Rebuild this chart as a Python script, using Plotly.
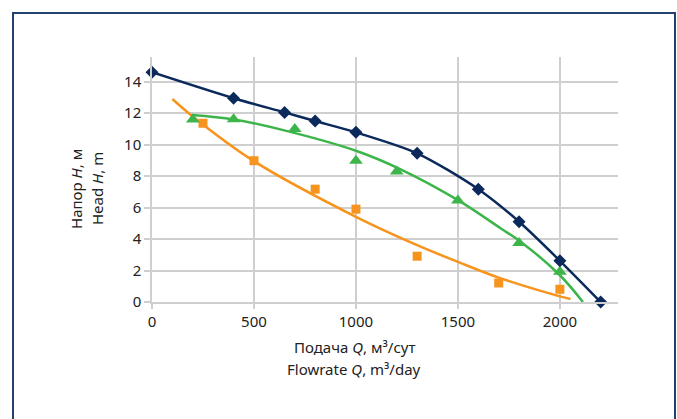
import plotly.graph_objects as go

# ---- data ----
q_blue = [0, 400, 650, 800, 1000, 1300, 1600, 1800, 2000, 2200]
h_blue = [14.6, 12.95, 12.05, 11.5, 10.78, 9.45, 7.17, 5.1, 2.62, 0.0]

q_green = [200, 400, 700, 1000, 1200, 1500, 1800, 2000]
h_green = [11.6, 11.62, 11.0, 8.98, 8.3, 6.45, 3.75, 1.93]
q_green_trend = [195, 400, 629, 1000, 1219, 1500, 1711, 1809, 2000, 2113]
h_green_trend = [11.88, 11.6, 10.97, 9.61, 8.43, 6.47, 4.67, 3.82, 1.70, 0.0]

q_orange = [250, 500, 800, 1000, 1300, 1700, 2000]
h_orange = [11.36, 8.98, 7.17, 5.9, 2.91, 1.21, 0.81]
q_orange_trend = [100, 195, 500, 1000, 1300, 1500, 1700, 2000, 2052]
h_orange_trend = [12.9, 11.84, 8.95, 5.41, 3.61, 2.55, 1.55, 0.36, 0.19]

x_ticks = [0, 500, 1000, 1500, 2000]
y_ticks = [0, 2, 4, 6, 8, 10, 12, 14]

NAVY = "#0b2a5b"
GREEN = "#3db54a"
ORANGE = "#f7941d"
GRID = "#cfcfcf"
FONT = "Noto Sans"

fig = go.Figure()

fig.add_trace(go.Scatter(x=q_orange_trend, y=h_orange_trend, mode="lines",
                         line=dict(color=ORANGE, width=2.5, shape="spline", smoothing=1.0),
                         hoverinfo="skip", showlegend=False, cliponaxis=False))
fig.add_trace(go.Scatter(x=q_orange, y=h_orange, mode="markers",
                         marker=dict(symbol="square", size=9, color=ORANGE),
                         showlegend=False, cliponaxis=False))

fig.add_trace(go.Scatter(x=q_green_trend, y=h_green_trend, mode="lines",
                         line=dict(color=GREEN, width=2.5, shape="spline", smoothing=1.0),
                         hoverinfo="skip", showlegend=False, cliponaxis=False))
fig.add_trace(go.Scatter(x=q_green, y=h_green, mode="markers",
                         marker=dict(symbol="triangle-up", size=12, color=GREEN),
                         showlegend=False, cliponaxis=False))

fig.add_trace(go.Scatter(x=q_blue, y=h_blue, mode="lines+markers",
                         line=dict(color=NAVY, width=2.5, shape="spline", smoothing=0.8),
                         marker=dict(symbol="diamond", size=10, color=NAVY),
                         showlegend=False, cliponaxis=False))

# plot area in px: x 152..618, y 57..302
L, R, T, B = 152, 59, 57, 117
W, H = 677 - L - R, 419 - T - B

def px(xp):
    return (xp - L) / W

def py(yp):
    return (419 - B - yp) / H

fig.update_layout(
    width=677, height=419,
    margin=dict(l=L, r=R, t=T, b=B),
    paper_bgcolor="white", plot_bgcolor="white",
    font=dict(family=FONT, size=15, color="#222222"),
    xaxis=dict(range=[0, 2285], tickvals=x_ticks, ticktext=[str(v) for v in x_ticks],
               showgrid=True, gridcolor=GRID, gridwidth=1.5,
               showline=True, linecolor=GRID, linewidth=1.5,
               ticks="outside", ticklen=5, tickcolor=GRID, tickwidth=1.5,
               zeroline=False, fixedrange=True),
    yaxis=dict(range=[0, 15.57], tickvals=y_ticks, ticktext=[str(v) for v in y_ticks],
               showgrid=True, gridcolor=GRID, gridwidth=1.5,
               showline=True, linecolor=GRID, linewidth=1.5,
               ticks="outside", ticklen=6, tickcolor=GRID, tickwidth=1.5,
               zeroline=False, fixedrange=True),
    shapes=[dict(type="rect", xref="paper", yref="paper",
                 x0=px(13), x1=px(675), y0=py(430), y1=py(13),
                 line=dict(color="#24406e", width=2), fillcolor="rgba(0,0,0,0)", layer="below")],
    annotations=[
        dict(text="Подача <i>Q</i>, м³/сут", xref="paper", yref="paper",
             x=px(354), y=py(347), showarrow=False, xanchor="center", yanchor="middle",
             font=dict(size=15)),
        dict(text="Flowrate <i>Q</i>, m³/day", xref="paper", yref="paper",
             x=px(354), y=py(369), showarrow=False, xanchor="center", yanchor="middle",
             font=dict(size=15)),
        dict(text="Напор <i>H</i>, м", xref="paper", yref="paper", textangle=-90,
             x=px(76), y=py(189), showarrow=False, xanchor="center", yanchor="middle",
             font=dict(size=15)),
        dict(text="Head <i>H</i>, m", xref="paper", yref="paper", textangle=-90,
             x=px(97), y=py(189), showarrow=False, xanchor="center", yanchor="middle",
             font=dict(size=15)),
    ],
)

fig.write_html("out.html", config={"displayModeBar": False},
               post_script="document.body.style.margin='0';document.body.style.overflow='hidden';")
